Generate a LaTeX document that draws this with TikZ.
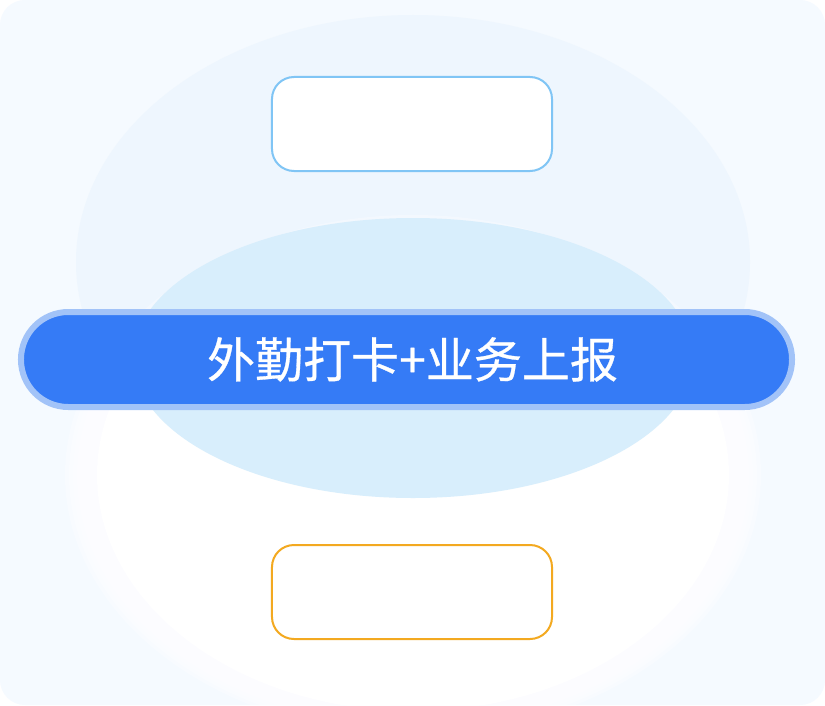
\documentclass[tikz,border=0pt]{standalone}
\usepackage{fontspec}
\newfontfamily\cjk[FakeBold=0.6]{Noto Sans CJK SC}
\usetikzlibrary{positioning}
\definecolor{bgpale}{HTML}{F5FAFF}
\definecolor{ovalup}{HTML}{EEF6FE}
\definecolor{ovalmid}{HTML}{D8EEFC}
\definecolor{pillfill}{HTML}{357BF6}
\definecolor{pillring}{HTML}{A2C3F8}
\definecolor{boxblue}{HTML}{80C5F5}
\definecolor{boxorange}{HTML}{F3A920}

\begin{document}
\begin{tikzpicture}[x=0.03cm, y=-0.03cm]

\tikzset{card/.style = {draw, fill=white, line width=0.06cm, rounded corners=0.66cm, minimum width=8.4cm, minimum height=2.82cm}}
\tikzset{pill/.style = {draw=pillring, fill=pillfill, line width=0.18cm, rounded corners=1.42cm, minimum width=23.13cm, minimum height=2.85cm, text=white, font=\cjk\fontsize{41}{48}\selectfont}}
\useasboundingbox (0,0) rectangle (825,705);
%background
\fill[white] (0,0) rectangle (825,705);
\fill[bgpale, rounded corners=0.75cm] (0,0) rectangle (825,705);
\fill[ovalup] (413,262) ellipse [x radius=337, y radius=247];
\foreach \k in {0,...,7}
  \fill[white, fill opacity=0.3] (413,475) ellipse [x radius={348-4*\k}, y radius={260-3*\k}];
\fill[white] (413,475) ellipse [x radius=316, y radius=236];
\fill[ovalmid] (413,358) ellipse [x radius=280, y radius=140];
%boxes
\node[card, draw=boxblue] (check) at (412,124) {};
\node[card, draw=boxorange] (report) at (412,592) {};
\node[pill] (title) at (406.5,359.5) {\hspace*{0.36cm}外勤打卡+业务上报};

\end{tikzpicture}
\end{document}
